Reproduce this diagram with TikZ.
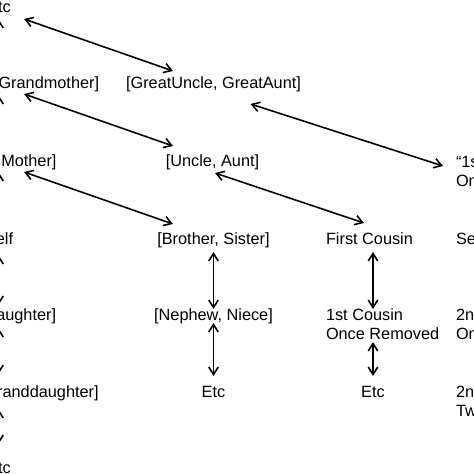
\documentclass[tikz,border=0pt]{standalone}
\usepackage{fontspec}
\setmainfont{Liberation Sans}
\usetikzlibrary{calc,arrows.meta}
\newcommand{\twoline}[2]{\begin{tabular}[t]{@{}l@{}}#1\\#2\end{tabular}}
\begin{document}
\begin{tikzpicture}[x=1pt,y=-1pt,
  lbl/.style={inner sep=0pt,outer sep=0pt,font=\fontsize{16.3}{19.5}\selectfont,anchor=base},
  lblw/.style={lbl,anchor=base west},
  link/.style={line width=1.6pt,{Straight Barb[length=7.5pt,width=9.5pt]}-{Straight Barb[length=7.5pt,width=9.5pt]}},
  uplink/.style={line width=1.6pt,-{Straight Barb[length=7.5pt,width=9.5pt]}}]
\useasboundingbox (0,0) rectangle (474,474);
\clip (0,0) rectangle (474,474);
% column 0
\node[lbl] (e0) at (-1,12) {Etc};
\node[lbl] (gp) at (-1,88) {[Grandfather, Grandmother]};
\node[lbl] (pa) at (-1,166) {[Father, Mother]};
\node[lbl] (se) at (-1,244) {Self};
\node[lbl] (ch) at (-1,320) {[Son, Daughter]};
\node[lbl] (gc) at (-1,397) {[Grandson, Granddaughter]};
\node[lbl] (e6) at (-1,473) {Etc};
% column 1
\node[lbl] (gu) at (213.5,88) {[GreatUncle, GreatAunt]};
\node[lbl] (ua) at (212.5,166) {[Uncle, Aunt]};
\node[lbl] (bs) at (213.5,244) {[Brother, Sister]};
\node[lbl] (nn) at (213.5,320) {[Nephew, Niece]};
\node[lbl] (e1) at (213.5,397) {Etc};
% column 2
\node[lblw] (fc) at (326,244) {First Cousin};
\node[lblw] (c1) at (326,320) {\twoline{1st Cousin}{Once Removed}};
\node[lbl] (e2) at (373,397) {Etc};
% column 3
\node[lblw] (q) at (456,167) {\twoline{“1st Cousin}{Once Removed”}};
\node[lblw] (sc) at (456,244) {Second Cousin};
\node[lblw] (c2a) at (456,320) {\twoline{2nd Cousin}{Once Removed}};
\node[lblw] (c2b) at (456,397) {\twoline{2nd Cousin}{Twice Removed}};
% diagonal links
\draw[link] ($(e0.base)+(25,7)$) -- ($(gu.base)+(-40.5,-17)$);
\draw[link] ($(gp.base)+(25,6)$) -- ($(ua.base)+(-39.5,-20)$);
\draw[link] ($(pa.base)+(25,6)$) -- ($(bs.base)+(-40.5,-20)$);
\draw[link] ($(gu.base)+(37,16)$) -- ($(q.base west)+(-13,-1)$);
\draw[link] ($(ua.base)+(2.5,7)$) -- ($(fc.base west)+(38,-21)$);
% vertical links, column 1
\draw[link] ($(bs.base)+(0,8)$) -- ($(nn.base)+(0,-11)$);
\draw[link] ($(nn.base)+(0,3)$) -- ($(e1.base)+(0,-21)$);
% vertical links, column 2
\draw[link] ($(fc.base west -| e2.base)+(0,8)$) -- ($(c1.base west -| e2.base)+(0,-11)$);
\draw[link] ($(c1.base west -| e2.base)+(0,22)$) -- ($(e2.base)+(0,-21)$);
% vertical links, column 0
\draw[uplink] ($(gp.base)+(-0.5,-15)$) -- ($(e0.base)+(-0.5,7)$);
\draw[uplink] ($(pa.base)+(-0.5,-15)$) -- ($(gp.base)+(-0.5,7)$);
\draw[uplink] ($(se.base)+(-0.5,-15)$) -- ($(pa.base)+(-0.5,6)$);
\draw[link] ($(se.base)+(-0.5,11)$) -- ($(ch.base)+(-0.5,-15)$);
\draw[link] ($(ch.base)+(-0.5,8)$) -- ($(gc.base)+(-0.5,-23)$);
\draw[link] ($(gc.base)+(-0.5,12)$) -- ($(e6.base)+(-0.5,-29)$);
\end{tikzpicture}
\end{document}
